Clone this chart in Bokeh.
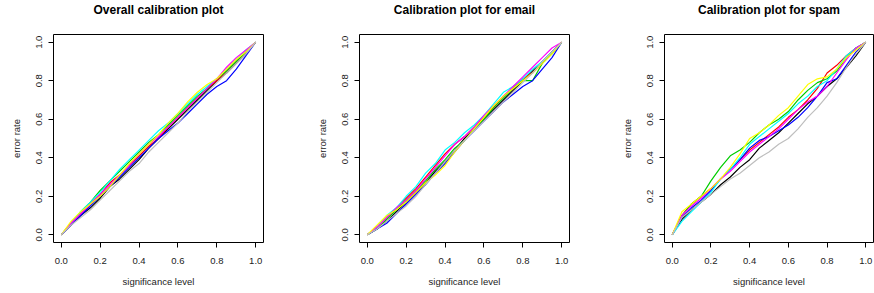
from bokeh.plotting import figure
from bokeh.layouts import row
from bokeh.models import Range1d, FixedTicker, Title
from bokeh.embed import file_html
from bokeh.resources import INLINE

# significance levels at which the error rate was read
sig_level = [0.00, 0.05, 0.10, 0.15, 0.20, 0.25, 0.30, 0.35, 0.40, 0.45, 0.50,
             0.55, 0.60, 0.65, 0.70, 0.75, 0.80, 0.85, 0.90, 0.95, 1.00]

tick_values = [0.0, 0.2, 0.4, 0.6, 0.8, 1.0]
tick_labels = ["0.0", "0.2", "0.4", "0.6", "0.8", "1.0"]

titles = ["Overall calibration plot", "Calibration plot for email", "Calibration plot for spam"]
line_colors = ["#000000", "#FF0000", "#00CD00", "#0000FF", "#00FFFF", "#FF00FF", "#FFFF00", "#BEBEBE"]

# Overall
overall_black   = [0, 0.05, 0.10, 0.14, 0.19, 0.25, 0.29, 0.34, 0.39, 0.45, 0.50, 0.55, 0.60, 0.65, 0.70, 0.75, 0.80, 0.84, 0.89, 0.94, 1]
overall_red     = [0, 0.06, 0.11, 0.16, 0.21, 0.27, 0.31, 0.36, 0.41, 0.46, 0.50, 0.56, 0.61, 0.66, 0.71, 0.76, 0.80, 0.85, 0.90, 0.95, 1]
overall_green   = [0, 0.06, 0.12, 0.17, 0.23, 0.28, 0.33, 0.38, 0.43, 0.48, 0.52, 0.57, 0.62, 0.67, 0.72, 0.76, 0.81, 0.85, 0.90, 0.95, 1]
overall_blue    = [0, 0.05, 0.10, 0.15, 0.20, 0.25, 0.30, 0.35, 0.40, 0.45, 0.50, 0.54, 0.58, 0.63, 0.68, 0.73, 0.77, 0.80, 0.86, 0.93, 1]
overall_cyan    = [0, 0.06, 0.12, 0.17, 0.22, 0.28, 0.34, 0.39, 0.44, 0.49, 0.54, 0.58, 0.63, 0.68, 0.73, 0.77, 0.81, 0.86, 0.91, 0.96, 1]
overall_magenta = [0, 0.06, 0.11, 0.16, 0.21, 0.26, 0.31, 0.36, 0.42, 0.47, 0.51, 0.56, 0.61, 0.66, 0.71, 0.76, 0.81, 0.87, 0.92, 0.96, 1]
overall_yellow  = [0, 0.07, 0.12, 0.16, 0.20, 0.25, 0.31, 0.37, 0.42, 0.47, 0.52, 0.58, 0.63, 0.69, 0.74, 0.78, 0.81, 0.86, 0.91, 0.95, 1]
overall_gray    = [0, 0.05, 0.09, 0.13, 0.18, 0.23, 0.28, 0.33, 0.37, 0.43, 0.48, 0.53, 0.58, 0.64, 0.69, 0.74, 0.79, 0.84, 0.89, 0.94, 1]

# Email
email_black   = [0, 0.03, 0.07, 0.12, 0.17, 0.22, 0.27, 0.33, 0.38, 0.44, 0.50, 0.55, 0.60, 0.65, 0.70, 0.75, 0.80, 0.85, 0.90, 0.95, 1]
email_red     = [0, 0.04, 0.09, 0.14, 0.19, 0.24, 0.30, 0.36, 0.42, 0.47, 0.51, 0.56, 0.61, 0.66, 0.72, 0.76, 0.81, 0.84, 0.89, 0.95, 1]
email_green   = [0, 0.03, 0.08, 0.13, 0.18, 0.23, 0.28, 0.34, 0.39, 0.45, 0.49, 0.55, 0.60, 0.66, 0.71, 0.76, 0.80, 0.80, 0.89, 0.94, 1]
email_blue    = [0, 0.03, 0.06, 0.11, 0.16, 0.21, 0.26, 0.32, 0.37, 0.43, 0.49, 0.54, 0.59, 0.64, 0.69, 0.73, 0.77, 0.80, 0.86, 0.92, 1]
email_cyan    = [0, 0.04, 0.10, 0.14, 0.20, 0.25, 0.32, 0.37, 0.44, 0.48, 0.53, 0.57, 0.62, 0.68, 0.74, 0.77, 0.81, 0.86, 0.90, 0.95, 1]
email_magenta = [0, 0.04, 0.09, 0.14, 0.18, 0.23, 0.29, 0.35, 0.41, 0.47, 0.51, 0.56, 0.62, 0.67, 0.72, 0.77, 0.82, 0.87, 0.92, 0.97, 1]
email_yellow  = [0, 0.05, 0.10, 0.13, 0.17, 0.22, 0.27, 0.31, 0.36, 0.43, 0.49, 0.55, 0.61, 0.67, 0.72, 0.76, 0.80, 0.84, 0.89, 0.94, 1]
email_gray    = [0, 0.03, 0.07, 0.11, 0.15, 0.20, 0.26, 0.32, 0.38, 0.44, 0.49, 0.54, 0.59, 0.64, 0.69, 0.74, 0.79, 0.84, 0.90, 0.95, 1]

# Spam
spam_black   = [0, 0.08, 0.13, 0.17, 0.21, 0.26, 0.30, 0.35, 0.39, 0.45, 0.49, 0.53, 0.58, 0.63, 0.68, 0.72, 0.77, 0.81, 0.87, 0.93, 1]
spam_red     = [0, 0.10, 0.16, 0.20, 0.24, 0.29, 0.34, 0.39, 0.44, 0.48, 0.52, 0.56, 0.61, 0.65, 0.70, 0.76, 0.84, 0.88, 0.93, 0.97, 1]
spam_green   = [0, 0.10, 0.16, 0.20, 0.28, 0.35, 0.41, 0.44, 0.48, 0.53, 0.57, 0.60, 0.64, 0.70, 0.75, 0.79, 0.81, 0.85, 0.92, 0.97, 1]
spam_blue    = [0, 0.09, 0.14, 0.18, 0.23, 0.29, 0.34, 0.39, 0.45, 0.49, 0.51, 0.54, 0.57, 0.61, 0.66, 0.72, 0.79, 0.81, 0.88, 0.95, 1]
spam_cyan    = [0, 0.07, 0.12, 0.17, 0.22, 0.29, 0.34, 0.40, 0.47, 0.51, 0.55, 0.59, 0.63, 0.68, 0.72, 0.77, 0.80, 0.86, 0.93, 0.97, 1]
spam_magenta = [0, 0.10, 0.15, 0.19, 0.24, 0.29, 0.33, 0.38, 0.43, 0.47, 0.51, 0.55, 0.60, 0.65, 0.69, 0.72, 0.77, 0.84, 0.91, 0.97, 1]
spam_yellow  = [0, 0.12, 0.16, 0.20, 0.24, 0.29, 0.35, 0.42, 0.50, 0.53, 0.57, 0.62, 0.66, 0.72, 0.78, 0.81, 0.82, 0.86, 0.92, 0.96, 1]
spam_gray    = [0, 0.09, 0.13, 0.17, 0.21, 0.25, 0.29, 0.32, 0.36, 0.40, 0.43, 0.47, 0.50, 0.55, 0.61, 0.66, 0.72, 0.79, 0.87, 0.94, 1]

panel_series = [
    [overall_black, overall_red, overall_green, overall_blue, overall_cyan, overall_magenta, overall_yellow, overall_gray],
    [email_black, email_red, email_green, email_blue, email_cyan, email_magenta, email_yellow, email_gray],
    [spam_black, spam_red, spam_green, spam_blue, spam_cyan, spam_magenta, spam_yellow, spam_gray],
]

FONT = "Liberation Sans"
# (figure width, left border, right border)
panel_geom = [(291, 53, 28), (291, 68, 13), (292, 82, 1)]

figs = []
for title, series, (w, bl, br) in zip(titles, panel_series, panel_geom):
    p = figure(width=w, height=293, output_backend="svg", toolbar_location=None,
               x_range=Range1d(-0.04, 1.04), y_range=Range1d(-0.04, 1.04),
               min_border_left=bl, min_border_right=br, min_border_top=33, min_border_bottom=51,
               title=title)
    # invisible gap between the frame and the title
    p.add_layout(Title(text=" ", text_font_size="2px", standoff=14), "above")
    p.title.text_font = FONT
    p.title.text_font_size = "12px"
    p.title.text_font_style = "bold"
    p.title.align = "center"
    p.title.standoff = 0
    p.title.text_color = "#000000"
    p.outline_line_color = "#000000"
    p.outline_line_alpha = 1.0
    p.outline_line_width = 1
    p.grid.visible = False
    p.background_fill_color = "white"
    p.border_fill_color = "white"

    for ys, c in zip(series, line_colors):
        p.line(sig_level, ys, line_color=c, line_width=1.2)

    for ax in (p.xaxis[0], p.yaxis[0]):
        ax.ticker = FixedTicker(ticks=tick_values)
        ax.major_label_overrides = {v: s for v, s in zip(tick_values, tick_labels)}
        ax.axis_line_color = None
        ax.major_tick_in = 0
        ax.major_tick_out = 5
        ax.major_tick_line_color = "#000000"
        ax.minor_tick_line_color = None
        ax.major_label_text_font = FONT
        ax.major_label_text_font_size = "9.5px"
        ax.major_label_text_color = "#222222"
        ax.axis_label_text_font = FONT
        ax.axis_label_text_font_size = "9.5px"
        ax.axis_label_text_font_style = "normal"
        ax.axis_label_text_color = "#222222"
    p.xaxis.axis_label = "significance level"
    p.yaxis.axis_label = "error rate"
    p.xaxis.major_label_standoff = 10
    p.xaxis.axis_label_standoff = 9
    p.yaxis.major_label_orientation = "vertical"
    p.yaxis.major_label_standoff = 6
    p.yaxis.axis_label_standoff = 12
    figs.append(p)

layout = row(*figs, spacing=0)
open("out.html", "w").write(file_html(layout, INLINE))
